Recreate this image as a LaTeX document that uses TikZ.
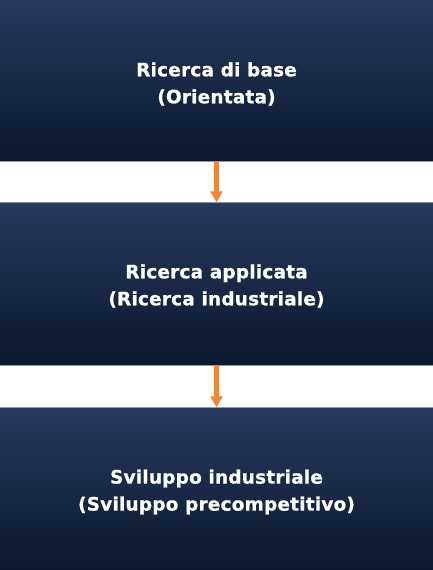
\documentclass[tikz,border=0pt]{standalone}
\usepackage{fontspec}
\setmainfont{DejaVu Sans}[BoldFont={DejaVu Sans Bold}, BoldFeatures={FakeBold=0.7}, LetterSpace=1]
\usetikzlibrary{arrows.meta}
\definecolor{boxtop}{RGB}{39,58,94}
\definecolor{boxbot}{RGB}{10,23,47}
\definecolor{boxedge}{RGB}{140,152,170}
\definecolor{arroworange}{RGB}{240,134,58}
\tikzset{
  stagebox/.style={minimum width=433pt, minimum height=#1, inner sep=0pt,
    top color=boxtop, bottom color=boxbot},
  edgeline/.style={draw=boxedge, line width=0.9pt},
  stagetext/.style={text=white, align=center, inner sep=0pt,
    font=\bfseries\fontsize{18.5}{27}\selectfont},
  flowarrow/.style={draw=arroworange, line width=4.6pt,
    -{Triangle[width=12pt,length=11pt]}, shorten >=0.5pt}
}
\begin{document}
\begin{tikzpicture}[x=1pt,y=-1pt]
\useasboundingbox (0,0) rectangle (433,570);
\node[stagebox=161pt] (b1) at (216.5,80.5) {};
\node[stagebox=162pt] (b2) at (216.5,284) {};
\node[stagebox=162pt] (b3) at (216.5,489) {};
\draw[edgeline] (b1.south west) -- (b1.south east);
\draw[edgeline] (b2.north west) -- (b2.north east);
\draw[edgeline] (b2.south west) -- (b2.south east);
\draw[edgeline] (b3.north west) -- (b3.north east);
\node[stagetext] (t1) at (216.5,84) {Ricerca di base\\(Orientata)};
\node[stagetext] (t2) at (216.5,286) {Ricerca applicata\\(Ricerca industriale)};
\node[stagetext] (t3) at (216.5,492) {Sviluppo industriale\\(Sviluppo precompetitivo)};
\draw[flowarrow] (b1.south) -- (b2.north);
\draw[flowarrow] (b2.south) -- (b3.north);
\end{tikzpicture}
\end{document}
